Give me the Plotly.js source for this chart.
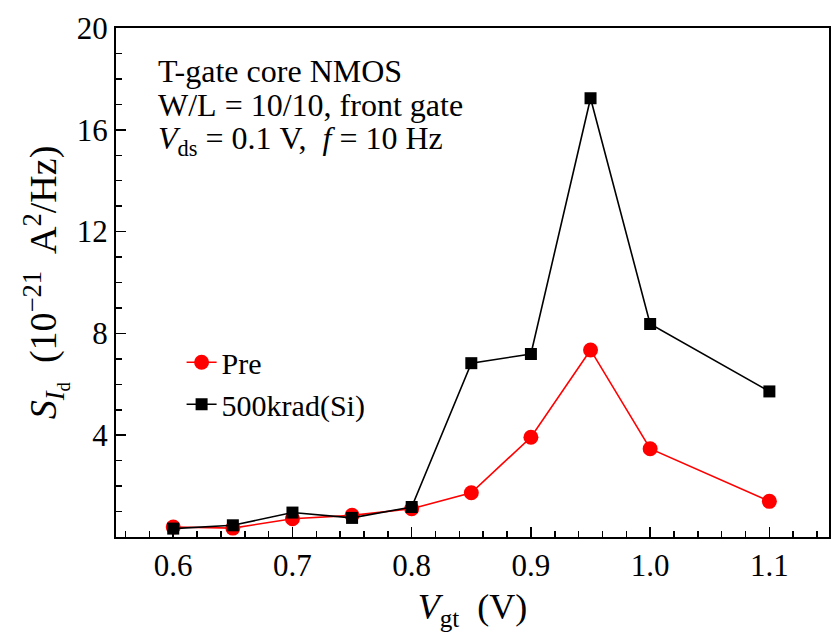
<!DOCTYPE html>
<html>
<head>
<meta charset="utf-8">
<script src="https://cdn.plot.ly/plotly-3.0.1.min.js"></script>
<style>html,body{margin:0;padding:0;background:#fff;}#chart{width:838px;height:638px;}</style>
</head>
<body>
<div id="chart"></div>
<script>
const vgt = [0.6, 0.65, 0.7, 0.75, 0.8, 0.85, 0.9, 0.95, 1.0, 1.1];
const preValues = [0.39, 0.35, 0.72, 0.85, 1.11, 1.74, 3.92, 7.35, 3.47, 1.40];
const radValues = [0.33, 0.46, 0.96, 0.75, 1.18, 6.83, 7.19, 17.24, 8.37, 5.72];
const xTickVals = [0.6, 0.7, 0.8, 0.9, 1.0, 1.1];
const xTickText = ['0.6', '0.7', '0.8', '0.9', '1.0', '1.1'];
const yTickVals = [4, 8, 12, 16, 20];
const yTickText = ['4', '8', '12', '16', '20'];
const seriesNames = ['Pre', '500krad(Si)'];

const FONT = '"Liberation Serif", "Times New Roman", serif';
const SP = '\u00a0';

const traces = [
  {
    x: vgt, y: preValues, name: seriesNames[0], type: 'scatter', mode: 'lines+markers',
    line: {color: '#ff0000', width: 1.6},
    marker: {symbol: 'circle', size: 15, color: '#ff0000'}
  },
  {
    x: vgt, y: radValues, name: seriesNames[1], type: 'scatter', mode: 'lines+markers',
    line: {color: '#000000', width: 1.6},
    marker: {symbol: 'square', size: 12, color: '#000000'}
  }
];

const layout = {
  width: 838, height: 638,
  margin: {l: 116, r: 9, t: 28, b: 101},
  paper_bgcolor: '#fff', plot_bgcolor: '#fff',
  font: {family: FONT, color: '#000', size: 30},
  showlegend: true,
  legend: {
    x: 0.092, y: 0.302, xanchor: 'left', yanchor: 'middle',
    bgcolor: 'rgba(0,0,0,0)', borderwidth: 0,
    font: {family: FONT, size: 30, color: '#000'},
    tracegroupgap: 0
  },
  xaxis: {
    range: [0.552, 1.15],
    tickmode: 'array', tickvals: xTickVals, ticktext: xTickText,
    ticks: 'inside', ticklen: 10, tickwidth: 1.5, tickcolor: '#000',
    minor: {dtick: 0.02, tick0: 0.5, ticks: 'inside', ticklen: 6, tickwidth: 1.5, tickcolor: '#000', showgrid: false},
    showline: true, linecolor: '#000', linewidth: 2, mirror: true,
    showgrid: false, zeroline: false,
    tickfont: {family: FONT, size: 31, color: '#000'},
    title: {text: '<i>V</i><sub>gt</sub>' + SP + SP + '(V)', font: {family: FONT, size: 36, color: '#000'}, standoff: 12}
  },
  yaxis: {
    range: [0, 20],
    tickmode: 'array', tickvals: yTickVals, ticktext: yTickText,
    ticks: 'inside', ticklen: 10, tickwidth: 1.5, tickcolor: '#000',
    minor: {dtick: 1, tick0: 0, ticks: 'inside', ticklen: 6, tickwidth: 1.5, tickcolor: '#000', showgrid: false},
    showline: true, linecolor: '#000', linewidth: 2, mirror: true,
    showgrid: false, zeroline: false,
    tickfont: {family: FONT, size: 31, color: '#000'},
    title: {text: '<i>S</i><sub><i>I</i><sub>d</sub></sub>  (10<sup>\u221221</sup>  A<sup>2</sup>/Hz)', font: {family: FONT, size: 38, color: '#000'}, standoff: 8}
  },
  annotations: [
    {xref: 'paper', yref: 'paper', x: 0.056, y: 0.915, xanchor: 'left', yanchor: 'middle', showarrow: false,
     text: 'T-gate core NMOS', font: {family: FONT, size: 32, color: '#000'}},
    {xref: 'paper', yref: 'paper', x: 0.056, y: 0.848, xanchor: 'left', yanchor: 'middle', showarrow: false,
     text: 'W/L' + SP + '=' + SP + '10/10, front gate', font: {family: FONT, size: 32, color: '#000'}},
    {xref: 'paper', yref: 'paper', x: 0.056, y: 0.778, xanchor: 'left', yanchor: 'middle', showarrow: false,
     text: '<i>V</i><sub>ds</sub>' + SP + '=' + SP + '0.1' + SP + 'V,' + SP + SP + '<i>f</i>' + SP + '=' + SP + '10' + SP + 'Hz', font: {family: FONT, size: 32, color: '#000'}}
  ]
};

Plotly.newPlot('chart', traces, layout, {displayModeBar: false, staticPlot: true});
</script>
</body>
</html>
